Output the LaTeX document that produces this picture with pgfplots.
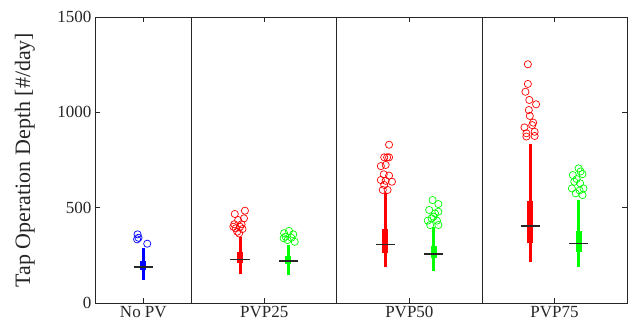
\documentclass[border=0pt]{standalone}
\usepackage{fontspec}
\setmainfont{Liberation Serif}
\usepackage{pgfplots}
\pgfplotsset{compat=1.18}
\definecolor{axgray}{rgb}{0.15,0.15,0.15}
\begin{document}
\begin{tikzpicture}
\begin{axis}[
  scale only axis, width=532pt, height=286pt,
  xmin=0, xmax=11, ymin=0, ymax=1500,
  xtick={1,3.5,6.5,9.5},
  xticklabels={No PV, PVP25, PVP50, PVP75},
  ytick={0,500,1000,1500},
  tick align=inside,
  major tick length=5pt,
  axis line style={axgray, line width=0.7pt},
  every tick/.style={axgray, line width=0.6pt},
  tick label style={font=\fontsize{17}{20}\selectfont, text=axgray},
  /pgf/number format/assume math mode=true,
  /pgf/number format/1000 sep={},
  ylabel={Tap Operation Depth [\#/day]},
  ylabel style={font=\fontsize{22}{26}\selectfont, text=axgray, at={(axis description cs:-0.1316,0.5)}, anchor=center, rotate=0},
  clip=false,
]
% dividers
\addplot[axgray, line width=0.7pt] coordinates {(2,0) (2,1500)};
\addplot[axgray, line width=0.7pt] coordinates {(5,0) (5,1500)};
\addplot[axgray, line width=0.7pt] coordinates {(8,0) (8,1500)};
% No PV (blue)
\addplot[blue, line width=3pt] coordinates {(1,121) (1,287)};
\addplot[blue, line width=6pt] coordinates {(1,173) (1,220)};
\addplot[black!85, line width=1.5pt] coordinates {(0.8,190) (1.2,190)};
\addplot[only marks, mark=o, blue, mark size=3.6pt, mark options={line width=0.7pt}] coordinates {
(0.88,360) (0.87,334) (0.90,342) (1.08,311)};
% PVP25 red
\addplot[red, line width=3pt] coordinates {(3,150) (3,345)};
\addplot[red, line width=6pt] coordinates {(3,208) (3,269)};
\addplot[black!85, line width=1.5pt] coordinates {(2.8,229) (3.2,229)};
\addplot[only marks, mark=o, red, mark size=3.6pt, mark options={line width=0.7pt}] coordinates {
(3.10,484) (2.89,467) (3.08,444) (2.96,435) (2.88,413) (3.03,413) (3.00,400) (2.86,400) (2.91,392) (3.05,388) (2.94,374) (2.98,365)};
% PVP25 green
\addplot[green, line width=3pt] coordinates {(4,147) (4,304)};
\addplot[green, line width=6pt] coordinates {(4,204) (4,246)};
\addplot[black!85, line width=1.5pt] coordinates {(3.8,219) (4.2,219)};
\addplot[only marks, mark=o, green, mark size=3.6pt, mark options={line width=0.7pt}] coordinates {
(3.91,366) (4.01,378) (4.10,360) (3.94,348) (4.06,342) (3.98,330) (4.13,321) (3.90,340)};
% PVP50 red
\addplot[red, line width=3pt] coordinates {(6,187) (6,575)};
\addplot[red, line width=6pt] coordinates {(6,261) (6,388)};
\addplot[black!85, line width=1.5pt] coordinates {(5.8,306) (6.2,306)};
\addplot[only marks, mark=o, red, mark size=3.6pt, mark options={line width=0.7pt}] coordinates {
(6.08,830) (6.04,764) (5.98,764) (6.08,764) (5.91,718) (6.01,724) (5.97,675) (6.08,668) (5.91,645) (6.14,636) (6.01,641) (5.95,593) (6.05,593) (5.98,619)};
% PVP50 green
\addplot[green, line width=3pt] coordinates {(7,169) (7,400)};
\addplot[green, line width=6pt] coordinates {(7,234) (7,299)};
\addplot[black!85, line width=1.5pt] coordinates {(6.8,257) (7.2,257)};
\addplot[only marks, mark=o, green, mark size=3.6pt, mark options={line width=0.7pt}] coordinates {
(6.98,540) (7.10,519) (6.91,488) (7.03,470) (7.10,479) (6.96,444) (6.88,432) (7.07,432) (7.10,409) (6.93,409) (7.00,453)};
% PVP75 red
\addplot[red, line width=3pt] coordinates {(9,217) (9,832)};
\addplot[red, line width=6pt] coordinates {(9,313) (9,535)};
\addplot[black!85, line width=1.5pt] coordinates {(8.8,404) (9.2,404)};
\addplot[only marks, mark=o, red, mark size=3.6pt, mark options={line width=0.7pt}] coordinates {
(8.95,1252) (8.95,1149) (8.90,1108) (8.98,1065) (9.12,1042) (8.97,1012) (8.99,981) (9.06,946) (9.04,933) (8.88,921) (8.92,890) (9.09,898) (8.92,873) (9.09,876)};
% PVP75 green
\addplot[green, line width=3pt] coordinates {(10,191) (10,540)};
\addplot[green, line width=6pt] coordinates {(10,269) (10,378)};
\addplot[black!85, line width=1.5pt] coordinates {(9.8,311) (10.2,311)};
\addplot[only marks, mark=o, green, mark size=3.6pt, mark options={line width=0.7pt}] coordinates {
(10.00,706) (10.08,676) (9.88,671) (9.91,636) (10.03,628) (9.86,601) (10.10,601) (9.94,575) (10.08,566) (10.04,690) (9.96,650) (10.02,590)};
\coordinate (ll) at (rel axis cs:0,0);
\end{axis}
\pgfresetboundingbox
\path[use as bounding box] ([xshift=-95pt,yshift=-28pt]ll) rectangle +(628pt,331pt);
\end{tikzpicture}
\end{document}
